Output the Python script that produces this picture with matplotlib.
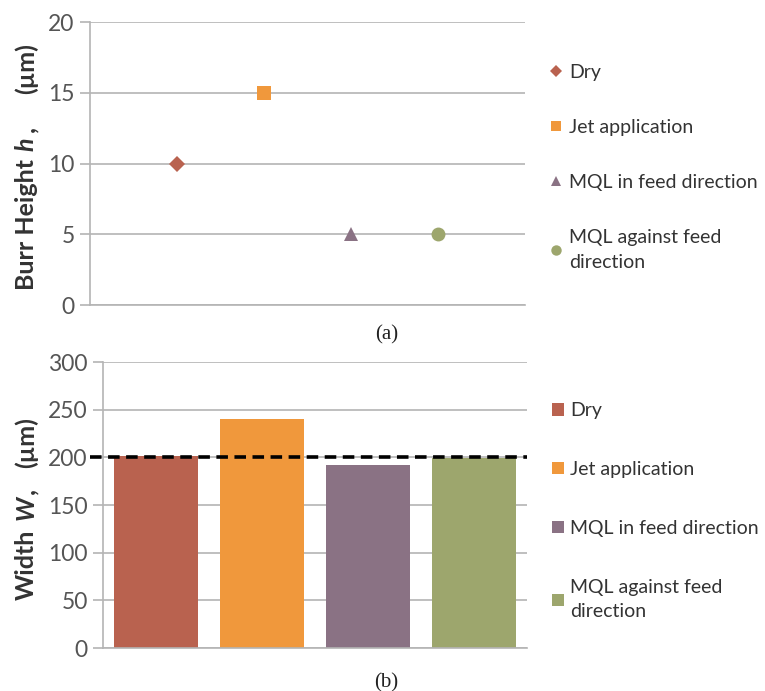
import matplotlib
matplotlib.use("Agg")
import matplotlib.pyplot as plt
from matplotlib.lines import Line2D
from matplotlib.patches import Patch
from matplotlib.transforms import IdentityTransform

# Conditions and measurements
conditions = ["Dry", "Jet application", "MQL in feed direction", "MQL against feed\ndirection"]
burr_height = [10, 15, 5, 5]          # µm
burr_width = [201, 240, 192, 199]     # µm
reference_width = 200                  # µm, dashed reference level

colors = ["#B9624F", "#F0983C", "#8A7284", "#9DA66D"]
markers = ["D", "s", "^", "o"]
marker_sizes = [8, 10, 10, 10]

grid_c = "#B4B4B4"
tick_c = "#555555"
label_c = "#333333"
sans = ["Lato", "DejaVu Sans"]

W_PX, H_PX, DPI = 765, 691, 100
fig = plt.figure(figsize=(W_PX / DPI, H_PX / DPI), dpi=DPI)
fig.patch.set_facecolor("white")


def vertical_label(pieces, x_base, y_center, size):
    """Bold rotated axis title made of pieces (text, style, gap_before_em),
    stacked bottom-to-top and centred on y_center (pixels from the top)."""
    renderer = fig.canvas.get_renderer()
    size_px = size * DPI / 72.0
    texts = []
    for s, style, _ in pieces:
        t = fig.text(0, 0, s, rotation=90, rotation_mode="anchor", ha="left",
                     va="baseline", fontsize=size, fontweight="bold", fontstyle=style,
                     family=sans, color=label_c, transform=IdentityTransform())
        texts.append(t)
    lengths = [t.get_window_extent(renderer).height for t in texts]
    gaps = [g * size_px for _, _, g in pieces]
    total = sum(lengths) + sum(gaps)
    y = (H_PX - y_center) - total / 2
    for t, ln, g in zip(texts, lengths, gaps):
        y += g
        t.set_position((x_base, y))
        y += ln


# ---- (a) burr height scatter ----
ax1 = fig.add_axes([0.1176, 0.5586, 0.686 - 0.1176, 0.968 - 0.5586])
for i, (h, c, m, ms, lab) in enumerate(zip(burr_height, colors, markers, marker_sizes, conditions)):
    ax1.plot([i + 1], [h], linestyle="none", marker=m, markersize=ms, color=c,
             markeredgewidth=0, label=lab, zorder=3)
ax1.set_xlim(0, 5)
ax1.set_ylim(0, 20)
ax1.set_yticks([0, 5, 10, 15, 20])
ax1.set_xticks([])

# ---- (b) width bars ----
ax2 = fig.add_axes([0.1346, 0.0622, 0.689 - 0.1346, 0.4761 - 0.0622])
xs = list(range(len(burr_width)))
ax2.bar(xs, burr_width, width=0.79, color=colors, zorder=2)
ax2.axhline(reference_width, xmin=-0.03, xmax=1.0, color="black", lw=2.6,
            linestyle=(0, (3.2, 1.8)), clip_on=False, zorder=4)
ax2.set_xlim(-0.5, 3.5)
ax2.set_ylim(0, 300)
ax2.set_yticks([0, 50, 100, 150, 200, 250, 300])
ax2.set_xticks([])

for ax in (ax1, ax2):
    ax.set_facecolor("white")
    ax.grid(axis="y", color=grid_c, lw=1.2, zorder=0)
    ax.set_axisbelow(True)
    for s in ("top", "right"):
        ax.spines[s].set_visible(False)
    for s in ("left", "bottom"):
        ax.spines[s].set_color(grid_c)
        ax.spines[s].set_linewidth(1.2)
    ax.tick_params(axis="y", length=7, width=1.2, color=grid_c, labelcolor=tick_c,
                   labelsize=16.5, pad=4)
    for t in ax.get_yticklabels():
        t.set_family(sans)

# Axis titles
vertical_label([("Burr Height", "normal", 0.0), ("h", "italic", 0.35),
                (",", "normal", 0.2), ("(µm)", "normal", 1.3)],
               x_base=34, y_center=166.5, size=18)
vertical_label([("Width", "normal", 0.0), ("W", "italic", 0.35),
                (",", "normal", 0.08), ("(µm)", "normal", 0.8)],
               x_base=34, y_center=508.5, size=18)

# Legends
leg_kw = dict(loc="center left", frameon=False, handletextpad=0.3,
              prop={"family": sans, "size": 14}, labelcolor=label_c,
              borderaxespad=0)
h1 = [Line2D([], [], linestyle="none", marker=m, markersize=ms * 0.75,
             color=c, markeredgewidth=0) for m, ms, c in zip(markers, marker_sizes, colors)]
leg1 = fig.legend(h1, conditions, bbox_to_anchor=(0.706, 0.7576), labelspacing=1.95,
                  handlelength=0.8, **leg_kw)
h2 = [Patch(facecolor=c, edgecolor="none") for c in colors]
leg2 = fig.legend(h2, conditions, bbox_to_anchor=(0.712, 0.260), labelspacing=2.15,
                  handlelength=0.6, handleheight=0.6, **leg_kw)
for leg in (leg1, leg2):
    for t in leg.get_texts():
        t.set_linespacing(1.55)

# Panel captions
fig.text(0.505, 0.515, "(a)", family=["Liberation Serif", "DejaVu Serif"], fontsize=15,
         ha="center", va="center", color="#222222")
fig.text(0.505, 0.012, "(b)", family=["Liberation Serif", "DejaVu Serif"], fontsize=15,
         ha="center", va="center", color="#222222")

fig.savefig("out.png", dpi=DPI, facecolor="white")
